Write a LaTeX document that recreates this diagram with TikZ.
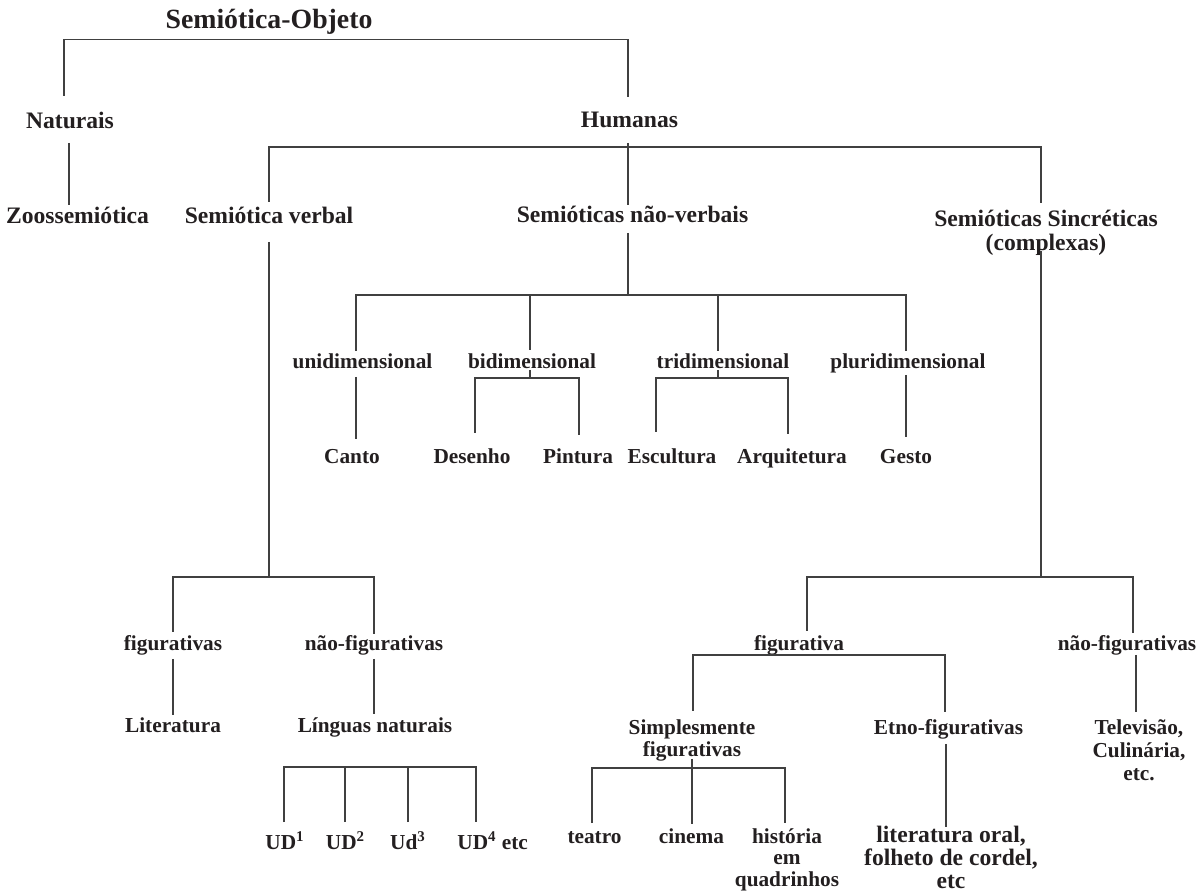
\documentclass[tikz,border=0pt]{standalone}
\usepackage{fontspec}
\setmainfont{Liberation Serif}
\usetikzlibrary{calc}
\definecolor{ink}{HTML}{231F20}
\definecolor{wirecol}{HTML}{404040}
\tikzset{
  lA/.style={anchor=base,inner sep=0pt,text=ink,font=\fontsize{11.8pt}{12pt}\selectfont\bfseries},
  lB/.style={anchor=base,inner sep=0pt,text=ink,font=\fontsize{10.65pt}{11pt}\selectfont\bfseries},
  ttl/.style={anchor=base,inner sep=0pt,text=ink,font=\fontsize{13.9pt}{16pt}\selectfont\bfseries},
  conn/.style={draw=wirecol,line width=0.55pt}
}
\begin{document}
\begin{tikzpicture}[x=0.5pt,y=-0.5pt]
\useasboundingbox (0,0) rectangle (1200,892);
\fill[white] (0,0) rectangle (1200,892);
% nodes
\node[ttl] (root) at (269,29) {Semiótica-Objeto};
\node[lA] (nat) at (70,129) {Naturais};
\node[lA] (hum) at (629.5,128) {Humanas};
\node[lA] (zoo) at (77.5,223.5) {Zoossemiótica};
\node[lA] (sv) at (269,223.5) {Semiótica verbal};
\node[lA] (snv) at (632.5,223) {Semióticas não-verbais};
\node[lA] (ssin) at (1046,226.5) {\begin{tabular}[t]{@{}c@{}}Semióticas Sincréticas\\(complexas)\end{tabular}};
\node[lB] (uni) at (362.5,369) {unidimensional};
\node[lB] (bi) at (532,369) {bidimensional};
\node[lB] (tri) at (723,369) {tridimensional};
\node[lB] (pluri) at (908,369) {pluridimensional};
\node[lB] (canto) at (352,464) {Canto};
\node[lB] (des) at (472,464) {Desenho};
\node[lB] (pin) at (578,464) {Pintura};
\node[lB] (esc) at (672,464) {Escultura};
\node[lB] (arq) at (792,464) {Arquitetura};
\node[lB] (ges) at (906,464) {Gesto};
\node[lB] (fig) at (173,651) {figurativas};
\node[lB] (nfig) at (374,651) {não-figurativas};
\node[lB] (lit) at (173,733) {Literatura};
\node[lB] (ling) at (375,733) {Línguas naturais};
\node[lB] (ud1) at (285,849) {UD\textsuperscript{1}};
\node[lB] (ud2) at (345.5,849) {UD\textsuperscript{2}};
\node[lB] (ud3) at (408,849) {Ud\textsuperscript{3}};
\node[lB,anchor=base west] (ud4) at (457,849) {UD\textsuperscript{4} etc};
\node[lB] (figv) at (799,651) {figurativa};
\node[lB] (nfig2) at (1127,651) {não-figurativas};
\node[lB,font=\fontsize{10.65pt}{10.75pt}\selectfont\bfseries] (simp) at (692,735) {\begin{tabular}[t]{@{}c@{}}Simplesmente\\figurativas\end{tabular}};
\node[lB] (etno) at (948.5,735) {Etno-figurativas};
\node[lB,font=\fontsize{10.65pt}{11.5pt}\selectfont\bfseries] (tv) at (1139,735) {\begin{tabular}[t]{@{}c@{}}Televisão,\\Culinária,\\etc.\end{tabular}};
\node[lB] (teatro) at (594.5,843) {teatro};
\node[lB] (cinema) at (691.5,843) {cinema};
\node[lB,font=\fontsize{10.65pt}{10.75pt}\selectfont\bfseries] (hist) at (787,843) {\begin{tabular}[t]{@{}c@{}}história\\em\\quadrinhos\end{tabular}};
\node[lA,font=\fontsize{11.8pt}{11.4pt}\selectfont\bfseries] (litoral) at (951,842) {\begin{tabular}[t]{@{}c@{}}literatura oral,\\folheto de cordel,\\etc\end{tabular}};
% connectors
\draw[conn] ($(nat.base)+(-6,-33)$) |- ($(hum.base)+(-1.5,-88.5)$) -- ($(hum.base)+(-1.5,-31)$);
\draw[conn] ($(nat.base)+(-1,14)$) -- ($(zoo.base)+(-8.5,-18.5)$);
\draw[conn] ($(hum.base)+(-1.5,15)$) -- ($(snv.base)+(-4.5,-18)$);
\draw[conn] ($(sv.base)+(0,-21.5)$) |- ($(ssin.base)+(-5,-79.5)$) -- ($(ssin.base)+(-5,-23.5)$);
\draw[conn] ($(sv.base)+(0,18.5)$) -- ($(sv.base |- fig.base)+(0,-74)$);
\draw[conn] ($(fig.base)+(0,-19)$) |- ($(nfig.base)+(0,-74)$) -- ($(nfig.base)+(0,-17)$);
\draw[conn] ($(fig.base)+(0,8)$) -- ($(lit.base)+(0,-18)$);
\draw[conn] ($(nfig.base)+(0,8)$) -- ($(ling.base)+(-1,-19)$);
\draw[conn] ($(ud1.base)+(-1,-27)$) |- ($(ud4.base west)+(19,-82)$) -- ($(ud4.base west)+(19,-27)$);
\draw[conn] ($(ud2.base)+(-0.5,-27)$) -- ($(ud2.base)+(-0.5,-82)$);
\draw[conn] ($(ud3.base)+(0,-27)$) -- ($(ud3.base)+(0,-82)$);
\draw[conn] ($(snv.base)+(-4.5,10)$) -- ($(snv.base)+(-4.5,72)$);
\draw[conn] ($(uni.base)+(-6.5,-18)$) |- ($(pluri.base)+(-2,-74)$) -- ($(pluri.base)+(-2,-18)$);
\draw[conn] ($(bi.base)+(-2,-74)$) -- ($(bi.base)+(-2,-19)$);
\draw[conn] ($(tri.base)+(-5,-74)$) -- ($(tri.base)+(-5,-18)$);
\draw[conn] ($(uni.base)+(-6.5,8)$) -- ($(canto.base)+(4,-25)$);
\draw[conn] ($(bi.base)+(-2,1)$) -- ($(bi.base)+(-2,9)$);
\draw[conn] ($(des.base)+(3,-31)$) |- ($(pin.base)+(1,-86)$) -- ($(pin.base)+(1,-29)$);
\draw[conn] ($(tri.base)+(-5,1)$) -- ($(tri.base)+(-5,9)$);
\draw[conn] ($(esc.base)+(-16,-32)$) |- ($(arq.base)+(-4,-86)$) -- ($(arq.base)+(-4,-30)$);
\draw[conn] ($(pluri.base)+(-2,6)$) -- ($(ges.base)+(0,-27)$);
\draw[conn] ($(ssin.base)+(-5,24.5)$) -- ($(ssin.base |- figv.base)+(-5,-74)$);
\draw[conn] ($(figv.base)+(8,-20)$) |- ($(nfig2.base)+(6,-74)$) -- ($(nfig2.base)+(6,-18)$);
\draw[conn] ($(simp.base)+(1,-24)$) |- ($(etno.base)+(-3.5,-80)$) -- ($(etno.base)+(-3.5,-23)$);
\draw[conn] ($(nfig2.base)+(9,4)$) -- ($(tv.base)+(-3,-23)$);
\draw[conn] ($(simp.base)+(0,24)$) -- ($(cinema.base)+(0.5,-19)$);
\draw[conn] ($(teatro.base)+(-2.5,-20)$) |- ($(hist.base)+(-2,-75)$) -- ($(hist.base)+(-2,-20)$);
\draw[conn] ($(etno.base)+(-2.5,9)$) -- ($(litoral.base)+(-5,-15)$);
\end{tikzpicture}
\end{document}
